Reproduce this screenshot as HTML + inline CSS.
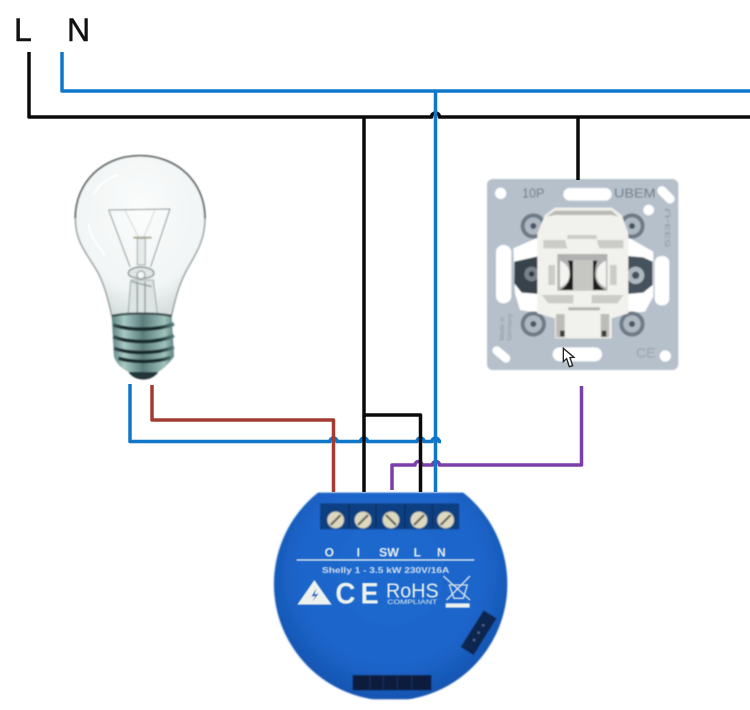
<!DOCTYPE html>
<html><head><meta charset="utf-8"><style>html,body{margin:0;padding:0;background:#fff;width:750px;height:710px;overflow:hidden}svg{display:block}text{font-family:"Liberation Sans",sans-serif}</style></head><body>
<svg width="750" height="710" viewBox="0 0 750 710" xmlns="http://www.w3.org/2000/svg">
<defs>
<filter id="b0" x="-5%" y="-5%" width="110%" height="110%"><feGaussianBlur stdDeviation="1.5"/></filter>
<filter id="b1" x="-5%" y="-5%" width="110%" height="110%"><feGaussianBlur stdDeviation="2"/></filter>
<filter id="b2" x="-5%" y="-5%" width="110%" height="110%"><feGaussianBlur stdDeviation="3"/></filter>
<radialGradient id="dev" cx="50%" cy="45%" r="55%"><stop offset="0" stop-color="#1f69cf"/><stop offset=".75" stop-color="#1c64c9"/><stop offset="1" stop-color="#1454b0"/></radialGradient>
<linearGradient id="base" x1="0" x2="1" y1="0" y2="0"><stop offset="0" stop-color="#5c8080"/><stop offset=".2" stop-color="#a8cac5"/><stop offset=".5" stop-color="#5a7c7c"/><stop offset=".85" stop-color="#9fc2bc"/><stop offset="1" stop-color="#5f8280"/></linearGradient>
<linearGradient id="band" gradientUnits="userSpaceOnUse" x1="155" x2="342" y1="0" y2="0"><stop offset="0" stop-color="#39595a"/><stop offset=".2" stop-color="#16292b"/><stop offset=".75" stop-color="#16292b"/><stop offset="1" stop-color="#5b8080"/></linearGradient>
<radialGradient id="glass" cx="50%" cy="35%" r="65%"><stop offset="0" stop-color="#fbfcfc"/><stop offset=".75" stop-color="#f1f5f5"/><stop offset="1" stop-color="#d7dfdf"/></radialGradient>
<clipPath id="devclip"><rect x="0" y="278" width="720" height="620"/></clipPath>
</defs>
<rect width="750" height="710" fill="#fff"/>

<!-- bulb -->
<g transform="translate(60,140) scale(.3333)">
<g filter="url(#b1)">
<path d="M240,47 C130,47 46,125 46,235 C46,310 85,345 115,400 C135,440 145,480 155,525 L335,525 C345,480 355,440 375,400 C400,350 435,310 435,235 C435,125 350,47 240,47Z" fill="url(#glass)" stroke="#8b9595" stroke-width="4"/>
<path d="M46,235 C46,125 130,47 240,47 C350,47 435,125 435,235" fill="none" stroke="#4d5654" stroke-width="5"/>
<path d="M146,210 L330,207 L272,380 M146,210 L210,380" fill="none" stroke="#7f8a89" stroke-width="3"/>
<path d="M195,212 L235,290 M285,210 L252,290" fill="none" stroke="#bac3c2" stroke-width="2"/>
<path d="M220,293 L275,293" stroke="#a9a782" stroke-width="6"/>
<rect x="232" y="295" width="24" height="80" fill="#e6ecea" stroke="#9aa5a4" stroke-width="3"/>
<path d="M205,400 C205,375 280,375 282,400 C282,420 205,420 205,400Z" fill="#dfe6e5" stroke="#7f8a89" stroke-width="4"/>
<circle cx="243" cy="405" r="12" fill="#f3f6f6" stroke="#7a8584" stroke-width="3"/>
<path d="M212,420 L280,420 L292,520 L205,520Z" fill="#dde4e3" stroke="#98a3a2" stroke-width="3"/>
<path d="M232,425 V520 M255,425 V520 M215,425 L275,440" stroke="#8a9594" stroke-width="4" fill="none"/>
<path d="M155,525 C200,515 290,515 335,525 L342,650 C320,680 300,695 285,700 L215,700 C190,690 170,675 162,650Z" fill="url(#base)"/>
<path d="M155,528 C200,518 290,518 335,528" stroke="#38494a" stroke-width="7" fill="none"/>
<path d="M160,555 C210,572 290,572 342,552 M160,590 C210,610 290,610 342,587 M162,625 C210,642 290,642 342,622 M175,655 C220,668 290,668 332,652" stroke="url(#band)" stroke-width="11" fill="none"/>
<path d="M205,696 C225,726 275,726 295,696Z" fill="#243637"/>
<path d="M85,250 C90,290 115,320 135,345 M175,105 C140,115 115,135 100,165" fill="none" stroke="#fff" stroke-width="6"/>
</g>
</g>

<!-- switch -->
<g transform="translate(480,170) scale(.3333)">
<g filter="url(#b1)">
<rect x="21" y="27" width="574" height="573" rx="18" fill="#b5c0cb"/>
<circle cx="62" cy="70" r="17" fill="#fff"/>
<rect x="250" y="54" width="145" height="38" rx="19" fill="#fff"/>
<rect x="528" y="60" width="62" height="28" rx="14" transform="rotate(45 558 73)" fill="#fff"/>
<circle cx="506" cy="120" r="16" fill="#fff"/>
<rect x="48" y="225" width="46" height="175" rx="22" fill="#fff"/>
<rect x="524" y="258" width="44" height="148" rx="20" fill="#fff"/>
<rect x="218" y="532" width="148" height="42" rx="21" fill="#fff"/>
<rect x="34" y="540" width="62" height="26" rx="13" transform="rotate(40 64 552)" fill="#fff"/>
<circle cx="556" cy="558" r="17" fill="#fff"/>
<text x="126" y="82" font-size="38" fill="#6d7885">10P</text>
<text x="402" y="82" font-size="38" fill="#6d7885" textLength="125" lengthAdjust="spacingAndGlyphs">UBEM</text>
<text x="468" y="562" font-size="42" fill="#98a3ae">CE</text>
<text transform="translate(570,232) rotate(-90)" font-size="22" fill="#8692a0" textLength="118" lengthAdjust="spacingAndGlyphs">533-U</text>
<text transform="translate(72,512) rotate(-90)" font-size="20" fill="#8a96a3">Made in</text>
<text transform="translate(94,512) rotate(-90)" font-size="20" fill="#8a96a3">Germany</text>
<path d="M100,235 L180,200 L180,430 L120,420 L105,370Z M440,200 L520,245 L520,380 L495,425 L440,430Z" fill="#fff"/>
<path d="M103,275 L178,258 L178,372 L125,368 L103,340Z" fill="#39424b"/>
<path d="M440,258 L490,262 L518,275 L518,345 L490,368 L440,372Z" fill="#47525c"/>
<circle cx="155" cy="312" r="22" fill="#76818a"/><circle cx="155" cy="312" r="8" fill="#2d343b"/>
<circle cx="467" cy="316" r="26" fill="#aeb8bf"/><circle cx="467" cy="316" r="11" fill="#46515b"/>
<g fill="#6e7a86">
<circle cx="160" cy="168" r="38"/><circle cx="456" cy="168" r="38"/><circle cx="160" cy="462" r="38"/><circle cx="456" cy="462" r="38"/>
</g>
<g fill="#aeb8c2">
<circle cx="160" cy="168" r="26"/><circle cx="456" cy="168" r="26"/><circle cx="160" cy="462" r="26"/><circle cx="456" cy="462" r="26"/>
</g>
<g fill="#4b5662">
<circle cx="160" cy="168" r="9"/><circle cx="456" cy="168" r="9"/><circle cx="160" cy="462" r="9"/><circle cx="456" cy="462" r="9"/>
</g>
<path d="M195,135 L225,113 L395,113 L425,135 L445,190 L445,430 L395,445 L395,505 L225,505 L225,445 L172,430 L172,190Z" fill="#f1f1ed"/>
<path d="M200,140 L225,122 L395,122 L415,140 L395,135 L225,135Z" fill="#b8bab6"/>
<path d="M190,210 H255 L262,235 H190Z M350,210 H430 V235 H358Z M262,195 H350 V207 H262Z M185,375 H280 V400 H205 Z M335,375 H430 L412,400 H335Z M205,285 H225 V345 H205Z M390,285 H410 V345 H390Z" fill="#cbcbc7"/>
<rect x="232" y="252" width="150" height="110" fill="#b0b1b0"/>
<path d="M264,272 H279 V360 H240 Q268,345 270,315 Q270,290 264,272Z M339,272 H352 Q345,295 345,315 Q347,345 376,360 H339Z" fill="#1e1e1e"/>
<rect x="279" y="270" width="60" height="92" fill="#c6c6c3"/>
<path d="M240,272 Q270,285 268,315 Q268,340 240,352 Z M378,272 Q348,285 350,315 Q350,340 378,352Z" fill="#f3f3ef"/>
<rect x="228" y="432" width="26" height="70" fill="#bdbdb8"/><rect x="362" y="432" width="26" height="70" fill="#bdbdb8"/>
<rect x="240" y="482" width="14" height="18" fill="#3a3a3a"/><rect x="365" y="482" width="14" height="18" fill="#3a3a3a"/>
<rect x="265" y="412" width="95" height="9" fill="#b3b3ae"/>
</g>
<path d="M250,535 L250,575 L260,566 L268,590 L278,587 L270,563 L282,562Z" fill="#fff" stroke="#222" stroke-width="4"/>
</g>

<!-- wires -->
<g fill="none" stroke-linejoin="round">
<path d="M130,384 V441.500 H330 A3.500,3.500 0 0 1 337,441.500 H360.500 A3.500,3.500 0 0 1 367.500,441.500 H417 A3.500,3.500 0 0 1 424,441.500 H432 A3.500,3.500 0 0 1 439,441.500 H441" stroke="#0f76c8" stroke-width="3.500"/>
<path d="M152,385 V420 H333.500 V492" stroke="#a23b33" stroke-width="3.500"/>
<path d="M392,490 V465 H415 A3.500,3.500 0 0 1 422,465 H432.500 A3.500,3.500 0 0 1 439.500,465 H581.500 V386" stroke="#7a3fa8" stroke-width="3.500"/>
<path d="M29,52 V117 H431.500 A4,4 0 0 1 439.500,117 H750" stroke="#0a0a0a" stroke-width="3.500"/>
<path d="M364,117 V492 M364,415 H420.500 V492 M578,117 V180" stroke="#0a0a0a" stroke-width="3.500"/>
<path d="M62,52 V91 H750 M435.500,91 V492" stroke="#0f76c8" stroke-width="3.500"/>
</g>

<text x="14" y="41" font-size="32" fill="#111" stroke="#111" stroke-width=".5">L</text>
<text x="67" y="41" font-size="32" fill="#111" stroke="#111" stroke-width=".5">N</text>

<!-- Shelly device -->
<g transform="translate(270,400) scale(.3333)">
<circle cx="360" cy="552" r="352" fill="#eef3fa" clip-path="url(#devclip)" filter="url(#b2)"/>
<g filter="url(#b1)">
<circle cx="362" cy="552" r="350" fill="url(#dev)" clip-path="url(#devclip)"/>
<rect x="150" y="310" width="418" height="78" fill="#0d3f82"/>
<path d="M237,312 V386 M318,312 V386 M405,312 V386 M487,312 V386" stroke="#07264f" stroke-width="3"/>
<g fill="#dcd9c0"><circle cx="197" cy="360" r="25"/><circle cx="279" cy="360" r="25"/><circle cx="363" cy="360" r="25"/><circle cx="447" cy="360" r="25"/><circle cx="527" cy="360" r="25"/></g>
<path d="M182,375 L212,345 M264,375 L294,345 M348,345 L378,375 M432,375 L462,345 M512,375 L542,345" stroke="#55524a" stroke-width="6"/>
<rect x="248" y="825" width="236" height="46" fill="#0a1c3c"/>
<path d="M300,828 V868 M340,828 V868 M382,828 V868 M425,828 V868" stroke="#1c3361" stroke-width="3"/>
<g transform="rotate(-58 626 698)"><rect x="561" y="675" width="130" height="46" fill="#112850"/><circle cx="600" cy="698" r="3" fill="#6a7fa5"/><circle cx="626" cy="698" r="3" fill="#6a7fa5"/><circle cx="652" cy="698" r="3" fill="#6a7fa5"/></g>
</g>
<g fill="#eef2ee" filter="url(#b0)">
<g font-weight="700" font-size="36" text-anchor="middle">
<text x="178" y="470">O</text><text x="265" y="470">I</text><text x="357" y="470" textLength="60" lengthAdjust="spacingAndGlyphs">SW</text><text x="442" y="470">L</text><text x="514" y="470">N</text>
</g>
<rect x="80" y="478" width="533" height="4"/>
<text x="347" y="519" font-size="26" font-weight="700" text-anchor="middle" textLength="382" lengthAdjust="spacingAndGlyphs" fill="#d6e0ef">Shelly 1 - 3.5 kW 230V/16A</text>
<path d="M133,540 L185,614 L82,614Z"/>
<path d="M139,565 L124,590 L136,588 L128,604 L146,581 L134,583Z" fill="#1c62c6"/>
<text x="196" y="611" font-size="88" font-weight="700" textLength="60" lengthAdjust="spacingAndGlyphs">C</text>
<text x="272" y="611" font-size="88" font-weight="700" textLength="54" lengthAdjust="spacingAndGlyphs">E</text>
<text x="348" y="592" font-size="62" textLength="158" lengthAdjust="spacingAndGlyphs">RoHS</text>
<text x="352" y="612" font-size="20" textLength="150" lengthAdjust="spacingAndGlyphs">COMPLIANT</text>
<path d="M538,555 L552,595 H580 L592,555 Z M520,528 L600,600 M600,528 L530,600" fill="none" stroke="#d9e2ea" stroke-width="4"/>
<rect x="527" y="610" width="72" height="13"/>
</g>
</g>
</svg>
</body></html>
